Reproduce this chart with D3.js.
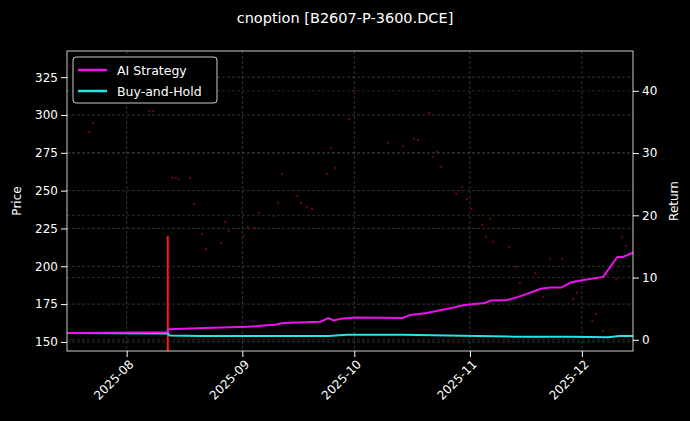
<!DOCTYPE html><html><head><meta charset="utf-8">
<script src="https://cdn.jsdelivr.net/npm/d3@7"></script>
<style>body{margin:0;background:#000}text{font-family:"DejaVu Sans",sans-serif}</style></head><body>
<svg id="c" width="690" height="421"></svg>
<script>
const startDate = new Date(2025,6,16);
const priceDays = [5.9,7.0,22.0,23.1,28.2,29.2,30.0,33.0,34.0,36.2,37.3,41.3,42.4,43.4,47.5,48.5,50.4,51.5,55.5,56.6,57.6,61.7,62.7,64.3,65.7,69.7,70.8,71.8,75.6,76.9,86.1,90.1,93.0,94.1,97.1,98.1,99.2,100.3,104.3,105.9,107.2,108.3,111.3,112.3,113.4,114.2,118.5,120.4,121.4,125.5,127.6,129.5,132.7,135.7,136.7,140.8,141.8,143.7,147.2,148.8,149.9];
const priceVals = [288.8,294.7,302.6,302.6,258.4,258.4,257.7,258.4,241.2,221.4,211.5,215.4,229.3,223.4,220.1,226.0,225.3,235.3,233.3,241.9,261.0,246.5,241.9,239.2,237.9,261.0,278.2,265.0,297.4,315.9,281.5,279.5,284.2,283.5,301.4,272.3,275.6,265.7,247.8,252.4,244.5,237.9,227.3,219.4,231.3,216.1,212.8,199.6,189.0,195.6,179.7,204.9,204.9,178.4,182.4,163.9,168.5,157.3,191.6,219.4,213.5];
const aiDays = [0,26.8,27.3,36.7,48.5,55.5,58,68,70,71.5,73.5,77,90,92,96.5,98,103,106.5,112,113.5,118,121,127,129.5,132.5,135,138.5,143.7,147.5,149,151.7];
const aiVals = [1.1,1.2,1.7,1.9,2.1,2.4,2.7,2.9,3.5,3.1,3.4,3.6,3.5,4.0,4.3,4.5,5.1,5.6,5.9,6.3,6.4,6.9,8.2,8.4,8.4,9.2,9.6,10.1,13.3,13.3,14.0];
const bhDays = [0,27,27.5,36,70,75,90,110,120,135,145,148,151.7];
const bhVals = [1.1,1.0,0.7,0.6,0.6,0.8,0.8,0.6,0.5,0.5,0.4,0.6,0.6];
const signalDay = 27;
const signalTop = 220;
const xTicks = ["2025-08","2025-09","2025-10","2025-11","2025-12"];
const priceTicks = [150,175,200,225,250,275,300,325];
const retTicks = [0,10,20,30,40];

const toDate = d => new Date(startDate.getTime()+d*86400000);
const svg = d3.select("#c");
const L=67,R=633,T=51,B=351;
const x = d3.scaleTime().domain([startDate, toDate(151.7)]).range([L,R]);
const yP = d3.scaleLinear().domain([144,342.3]).range([B,T]);
const yR = d3.scaleLinear().domain([-1.8,46.4]).range([B,T]);
const g = svg.append("g");
const xt = xTicks.map(s=>{const [a,b]=s.split("-");return new Date(+a,+b-1,1);});
g.selectAll(".gx").data(xt).join("line").attr("x1",d=>x(d)).attr("x2",d=>x(d)).attr("y1",T).attr("y2",B).attr("stroke","#555").attr("stroke-dasharray","3,2").attr("stroke-width",0.6);
g.selectAll(".gy").data(priceTicks).join("line").attr("x1",L).attr("x2",R).attr("y1",d=>yP(d)).attr("y2",d=>yP(d)).attr("stroke","#555").attr("stroke-dasharray","3,2").attr("stroke-width",0.6);
g.selectAll(".gr").data(retTicks).join("line").attr("x1",L).attr("x2",R).attr("y1",d=>yR(d)).attr("y2",d=>yR(d)).attr("stroke","#444").attr("stroke-dasharray","3,2").attr("stroke-width",0.6);
g.selectAll(".p").data(priceDays).join("circle").attr("cx",d=>x(toDate(d))).attr("cy",(d,i)=>yP(priceVals[i])).attr("r",1.1).attr("fill","#6a0c0c");
svg.append("line").attr("x1",x(toDate(signalDay))).attr("x2",x(toDate(signalDay))).attr("y1",yP(signalTop)).attr("y2",B).attr("stroke","#ff1a1a").attr("stroke-width",2);
const line = d3.line().x(d=>x(toDate(d[0]))).y(d=>yR(d[1]));
svg.append("path").attr("d",line(bhDays.map((d,i)=>[d,bhVals[i]]))).attr("fill","none").attr("stroke","#22e5e5").attr("stroke-width",2);
svg.append("path").attr("d",line(aiDays.map((d,i)=>[d,aiVals[i]]))).attr("fill","none").attr("stroke","#ee10ee").attr("stroke-width",2);
svg.append("rect").attr("x",L).attr("y",T).attr("width",R-L).attr("height",B-T).attr("fill","none").attr("stroke","#fff").attr("stroke-width",0.8);
const ax = svg.append("g").attr("transform",`translate(0,${B})`).call(d3.axisBottom(x).tickValues(xt).tickFormat(d3.timeFormat("%Y-%m")).tickSizeOuter(0));
ax.selectAll("text").attr("fill","#fff").attr("font-size",12).attr("text-anchor","end").attr("transform","rotate(-45)").attr("dx","-0.4em").attr("dy","0.5em");
const ay = svg.append("g").attr("transform",`translate(${L},0)`).call(d3.axisLeft(yP).tickValues(priceTicks).tickSizeOuter(0));
ay.selectAll("text").attr("fill","#fff").attr("font-size",12);
const ar = svg.append("g").attr("transform",`translate(${R},0)`).call(d3.axisRight(yR).tickValues(retTicks).tickSizeOuter(0));
ar.selectAll("text").attr("fill","#fff").attr("font-size",12);
svg.selectAll(".domain").remove();
svg.selectAll(".tick line").attr("stroke","#fff");
svg.append("text").attr("x",345).attr("y",23).attr("text-anchor","middle").attr("fill","#fff").attr("font-size",14.5).text("cnoption [B2607-P-3600.DCE]");
svg.append("text").attr("transform","translate(21,201) rotate(-90)").attr("text-anchor","middle").attr("fill","#fff").attr("font-size",12).text("Price");
svg.append("text").attr("transform","translate(678,201) rotate(-90)").attr("text-anchor","middle").attr("fill","#fff").attr("font-size",12).text("Return");
const lg = svg.append("g");
lg.append("rect").attr("x",73).attr("y",57).attr("width",144).attr("height",46).attr("rx",3).attr("fill","#000").attr("stroke","#ccc");
[["AI Strategy","#ee10ee"],["Buy-and-Hold","#22e5e5"]].forEach((d,i)=>{
 const yy=70+i*21;
 lg.append("line").attr("x1",78).attr("x2",107).attr("y1",yy).attr("y2",yy).attr("stroke",d[1]).attr("stroke-width",2.5);
 lg.append("text").attr("x",117).attr("y",yy+4.5).attr("fill","#fff").attr("font-size",12.5).text(d[0]);
});
</script></body></html>
